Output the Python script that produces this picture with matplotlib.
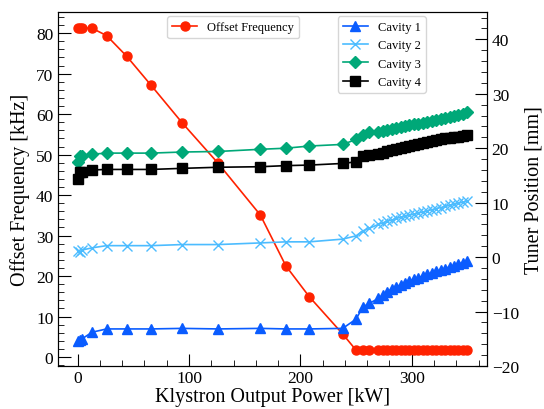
import matplotlib
matplotlib.use("Agg")
import matplotlib.pyplot as plt
from matplotlib.ticker import MultipleLocator

plt.rcParams["font.family"] = ["Liberation Serif", "DejaVu Serif"]

# -----------------------------
# Data
# -----------------------------
power_kw = [0, 2, 4, 13, 26, 44, 66, 94, 126, 164, 187, 208, 238, 250, 256, 262,
            270, 274, 278, 282, 286, 290, 294, 298, 302, 306, 310, 314, 318, 322,
            326, 330, 334, 338, 342, 346, 350]

offset_khz = [81.2, 81.3, 81.3, 81.2, 79.4, 74.3, 67.1, 57.8, 47.9, 35.1, 22.5, 14.9,
              5.7, 1.7, 1.7, 1.7,
              1.7, 1.7, 1.7, 1.7, 1.7, 1.7, 1.7, 1.7, 1.7, 1.7, 1.7, 1.7, 1.7, 1.7,
              1.7, 1.7, 1.7, 1.7, 1.7, 1.7, 1.7]

cavity1 = [-15.4, -15.3, -15.0, -13.8, -13.2, -13.2, -13.2, -13.1, -13.2, -13.1, -13.2,
           -13.2, -13.1, -11.4, -9.2, -8.5,
           -7.6, -7.0, -6.4, -5.9, -5.5, -5.1, -4.8, -4.4, -4.1, -3.8, -3.5, -3.2,
           -2.9, -2.6, -2.4, -2.1, -1.8, -1.6, -1.3, -1.0, -0.8]

cavity2 = [1.2, 1.0, 1.3, 1.7, 2.1, 2.1, 2.1, 2.3, 2.3, 2.6, 2.8, 2.8, 3.3, 3.9, 4.8, 5.3,
           6.0, 6.3, 6.6, 6.8, 7.1, 7.3, 7.5, 7.7, 7.9, 8.1, 8.3, 8.5, 8.7, 8.9,
           9.1, 9.3, 9.5, 9.7, 9.9, 10.1, 10.3]

cavity3 = [17.4, 18.6, 18.5, 18.9, 19.1, 19.1, 19.1, 19.3, 19.4, 19.8, 20.0, 20.4, 20.7,
           21.6, 22.4, 22.9,
           23.0, 23.2, 23.4, 23.5, 23.7, 23.9, 24.0, 24.2, 24.4, 24.5, 24.7, 24.9,
           25.0, 25.2, 25.3, 25.5, 25.7, 25.9, 26.1, 26.3, 26.6]

cavity4 = [14.3, 15.6, 15.7, 16.0, 16.1, 16.1, 16.1, 16.3, 16.5, 16.6, 16.8, 16.9, 17.2,
           17.5, 18.5, 18.7,
           19.0, 19.2, 19.4, 19.6, 19.8, 20.0, 20.2, 20.4, 20.6, 20.7, 20.9, 21.1,
           21.3, 21.5, 21.7, 21.8, 21.9, 22.0, 22.1, 22.3, 22.4]

# -----------------------------
# Plot
# -----------------------------
fig, ax1 = plt.subplots(figsize=(5.44, 4.10), dpi=100)
fig.subplots_adjust(left=0.107, right=0.895, bottom=0.105, top=0.968)
ax2 = ax1.twinx()

LW = 1.2
MS = 6.5

ax1.plot(power_kw, offset_khz, color="#ff2200", marker="o", markersize=MS,
         linewidth=LW, label="Offset Frequency")

ax2.plot(power_kw, cavity1, color="#0a5cff", marker="^", markersize=MS,
         linewidth=LW, label="Cavity 1")
ax2.plot(power_kw, cavity2, color="#4cbcff", marker="x", markersize=MS,
         linewidth=LW, label="Cavity 2")
ax2.plot(power_kw, cavity3, color="#00a878", marker="D", markersize=MS,
         linewidth=LW, label="Cavity 3")
ax2.plot(power_kw, cavity4, color="black", marker="s", markersize=MS,
         linewidth=LW, label="Cavity 4")

ax1.set_xlim(-17.5, 367.5)
ax1.set_ylim(-2.2, 85.2)
ax2.set_ylim(-20, 45)

ax1.set_xlabel("Klystron Output Power [kW]", fontsize=14.5, labelpad=0.5)
ax1.set_ylabel("Offset Frequency [kHz]", fontsize=14.5)
ax2.set_ylabel("Tuner Position [mm]", fontsize=14.5)

ax1.xaxis.set_major_locator(MultipleLocator(100))
ax1.xaxis.set_minor_locator(MultipleLocator(20))
ax1.yaxis.set_major_locator(MultipleLocator(10))
ax1.yaxis.set_minor_locator(MultipleLocator(2))
ax2.yaxis.set_major_locator(MultipleLocator(10))
ax2.yaxis.set_minor_locator(MultipleLocator(2))

ax1.tick_params(axis="both", which="major", direction="in", length=9, labelsize=12.5)
ax1.tick_params(axis="both", which="minor", direction="in", length=4.5)
ax1.tick_params(axis="x", which="major", pad=3)
ax1.tick_params(axis="y", right=False)
ax2.tick_params(axis="y", which="major", direction="in", length=9, labelsize=12.5)
ax2.tick_params(axis="y", which="minor", direction="in", length=4.5)

ax1.legend(loc="upper left", bbox_to_anchor=(0.24, 1.006), fontsize=9)
ax2.legend(loc="upper left", bbox_to_anchor=(0.638, 1.006), fontsize=9)

plt.savefig("out.png", dpi=100)
plt.close()
